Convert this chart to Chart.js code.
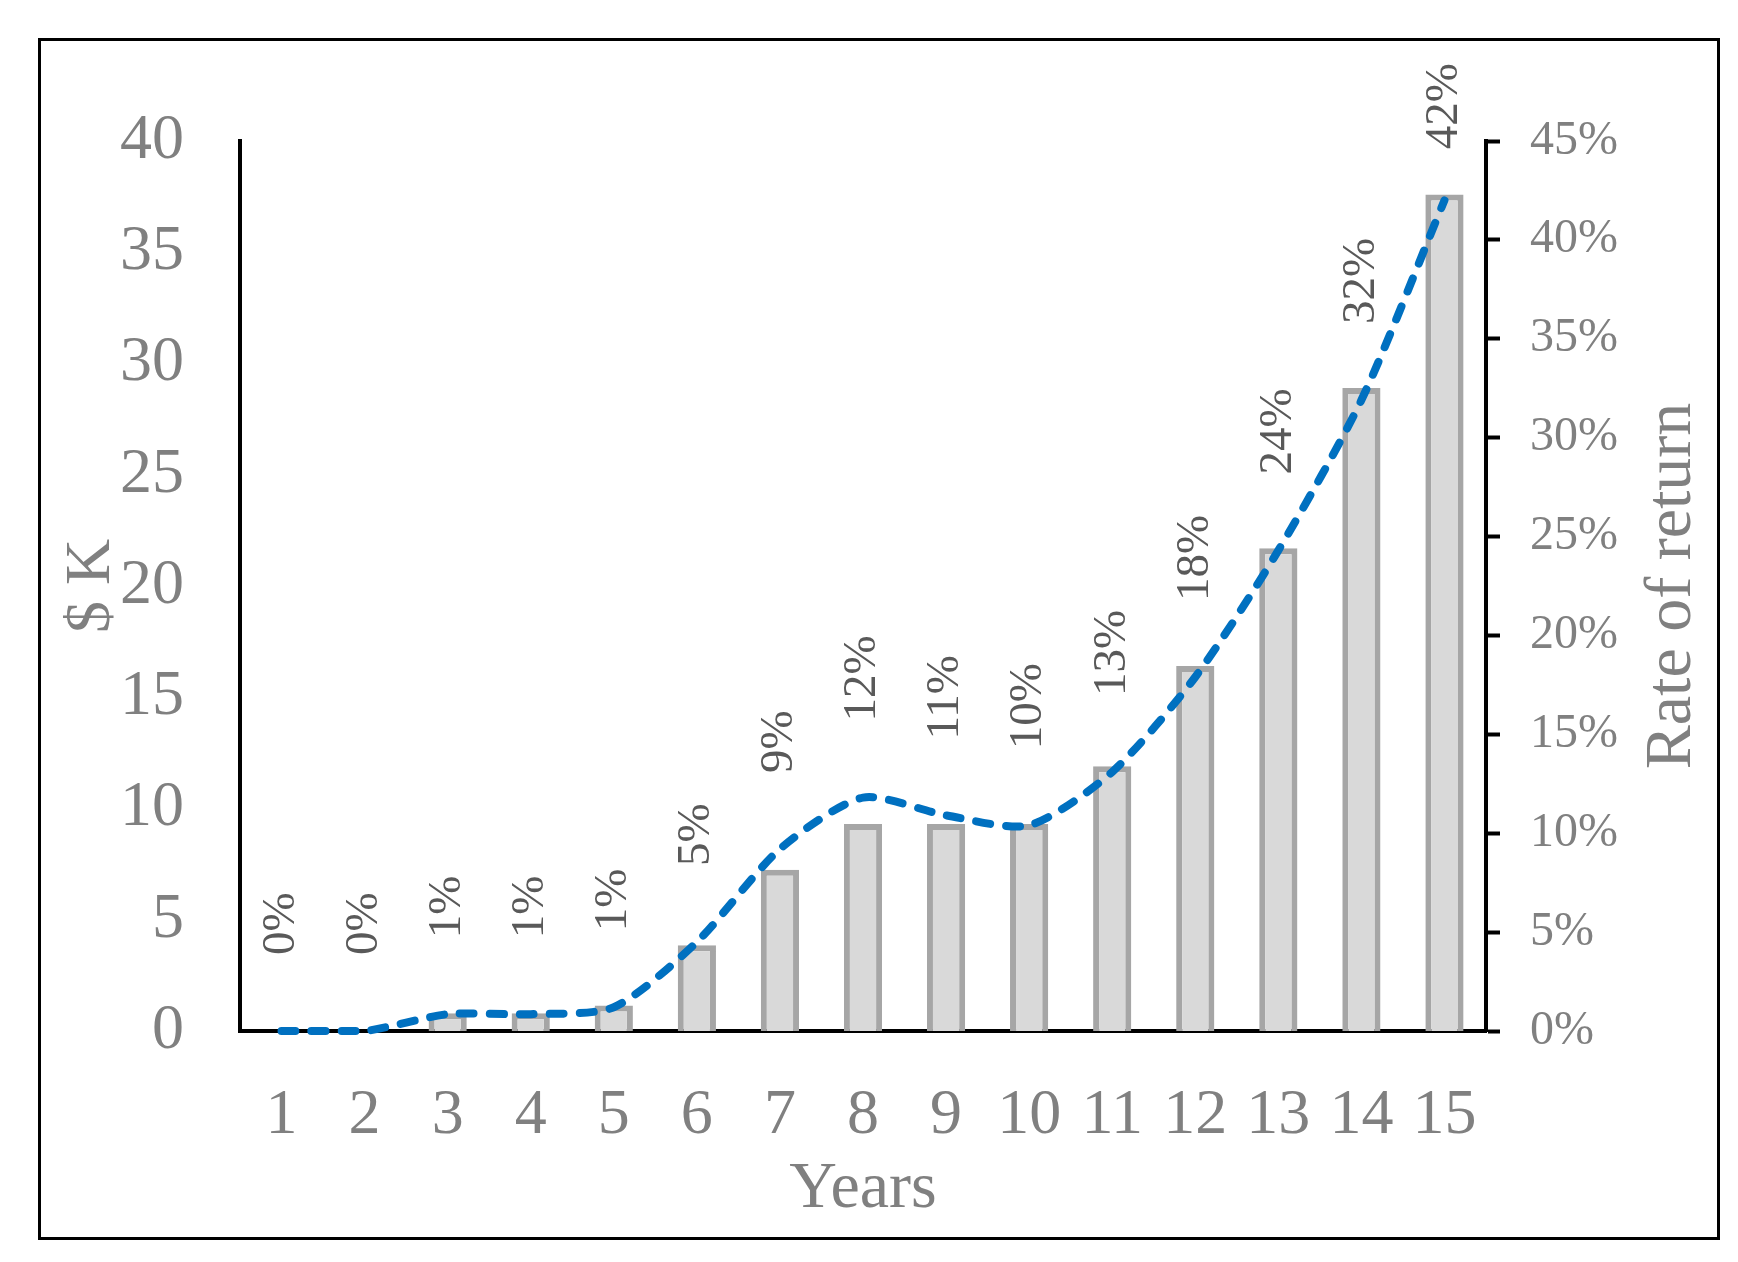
<!DOCTYPE html>
<html>
<head>
<meta charset="utf-8">
<script src="https://cdn.jsdelivr.net/npm/chart.js@4.4.1/dist/chart.umd.min.js"></script>
<style>
  html, body { margin: 0; padding: 0; background: #fff; }
  canvas { display: block; }
</style>
</head>
<body>
<canvas id="chart" width="1738" height="1262"></canvas>
<script>
const years = ["1", "2", "3", "4", "5", "6", "7", "8", "9", "10", "11", "12", "13", "14", "15"];

// $K per year (bars, left axis)
const savings = [0, 0, 0.8, 0.8, 1.15, 3.85, 7.25, 9.3, 9.3, 9.3, 11.9, 16.4, 21.7, 28.9, 37.6];

// rate of return in % (dashed line, right axis)
const returnRate = [0, 0, 0.85, 0.85, 1.2, 4.5, 9.2, 11.8, 10.9, 10.4, 13.1, 17.9, 24.3, 31.9, 42.0];
const returnLabels = ["0%", "0%", "1%", "1%", "1%", "5%", "9%", "12%", "11%", "10%", "13%", "18%", "24%", "32%", "42%"];

const SERIF = "'Liberation Serif', 'Times New Roman', serif";
const GREY = "#808080";

// outer frame round the whole chart
const frame = {
  id: "frame",
  beforeDraw(chart) {
    const ctx = chart.ctx;
    ctx.save();
    ctx.fillStyle = "#fff";
    ctx.fillRect(0, 0, chart.width, chart.height);
    ctx.strokeStyle = "#000";
    ctx.lineWidth = 3;
    ctx.strokeRect(39.5, 39.5, 1679, 1199);
    ctx.restore();
  },
};

// rotated % labels above the line points
const rateLabels = {
  id: "rateLabels",
  afterDatasetsDraw(chart) {
    const meta = chart.getDatasetMeta(0);
    const ctx = chart.ctx;
    ctx.save();
    ctx.font = "47px " + SERIF;
    ctx.fillStyle = "#595959";
    ctx.textAlign = "left";
    ctx.textBaseline = "middle";
    meta.data.forEach((pt, i) => {
      const w = ctx.measureText(returnLabels[i]).width;
      // keep the label inside the frame, like the spreadsheet does
      let start = pt.y - 76;
      if (start - w < 63) start = 63 + w;
      ctx.save();
      ctx.translate(pt.x, start);
      ctx.rotate(-Math.PI / 2);
      ctx.fillText(returnLabels[i], 0, 0);
      ctx.restore();
    });
    ctx.restore();
  },
};

// right axis title reads bottom to top, chart.js would turn it the other way
const rightTitle = {
  id: "rightTitle",
  afterDraw(chart) {
    const area = chart.chartArea;
    const ctx = chart.ctx;
    ctx.save();
    ctx.font = "66px " + SERIF;
    ctx.fillStyle = GREY;
    ctx.textAlign = "center";
    ctx.textBaseline = "middle";
    ctx.translate(1673, (area.top + area.bottom) / 2);
    ctx.rotate(-Math.PI / 2);
    ctx.fillText("Rate of return", 0, 0);
    ctx.restore();
  },
};

const config = {
  data: {
    labels: years,
    datasets: [
      {
        type: "line",
        label: "Rate of return",
        data: returnRate,
        yAxisID: "y2",
        order: 0,
        borderColor: "#0070C0",
        borderWidth: 8,
        borderDash: [14, 16],
        borderCapStyle: "round",
        tension: 0.25,
        pointRadius: 0,
        fill: false,
        clip: false,
      },
      {
        type: "bar",
        label: "$K",
        data: savings,
        yAxisID: "y",
        order: 1,
        backgroundColor: "#D9D9D9",
        borderColor: "#A6A6A6",
        borderWidth: 6,
        categoryPercentage: 1,
        barPercentage: 0.46,
      },
    ],
  },
  options: {
    responsive: false,
    animation: false,
    devicePixelRatio: 1,
    layout: { padding: { top: 141, left: 0, right: 0, bottom: 0 } },
    plugins: {
      legend: { display: false },
      tooltip: { enabled: false },
    },
    scales: {
      x: {
        grid: { display: false },
        border: { color: "#000", width: 4 },
        ticks: {
          color: GREY,
          font: { family: SERIF, size: 64 },
          padding: 39,
          maxRotation: 0,
          autoSkip: false,
        },
        title: {
          display: true,
          text: "Years",
          color: GREY,
          font: { family: SERIF, size: 66 },
          padding: { top: 0, bottom: 33 },
        },
        afterFit: (scale) => { scale.height = 231; },
      },
      y: {
        position: "left",
        min: 0,
        max: 40,
        grid: { display: false },
        border: { color: "#000", width: 4 },
        ticks: {
          stepSize: 5,
          color: GREY,
          font: { family: SERIF, size: 64 },
          padding: 48,
        },
        title: {
          display: true,
          text: "$ K",
          color: GREY,
          font: { family: SERIF, size: 64 },
          padding: { top: 54, bottom: 0 },
        },
        afterFit: (scale) => { scale.width = 240; },
      },
      y2: {
        position: "right",
        min: 0,
        max: 45,
        grid: {
          display: true,
          drawOnChartArea: false,
          drawTicks: true,
          tickLength: 14,
          tickColor: "#000",
          tickWidth: 4,
        },
        border: { color: "#000", width: 4 },
        ticks: {
          stepSize: 5,
          color: GREY,
          font: { family: SERIF, size: 48 },
          padding: 30,
          callback: (v) => v + "%",
        },
        afterFit: (scale) => { scale.width = 252; },
      },
    },
  },
  plugins: [frame, rateLabels, rightTitle],
};

new Chart(document.getElementById("chart"), config);
</script>
</body>
</html>
